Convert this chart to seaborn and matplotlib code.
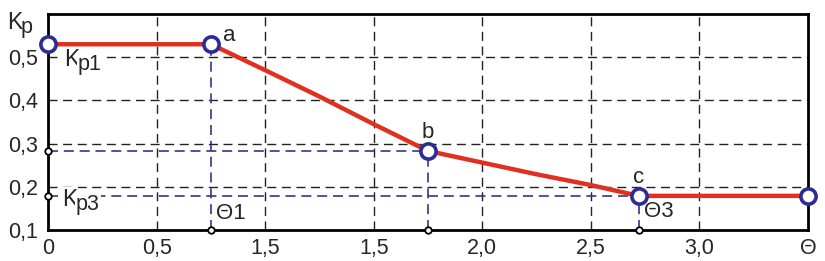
import matplotlib
matplotlib.use("Agg")
import matplotlib.pyplot as plt
import seaborn as sns
import pandas as pd
import numpy as np
from matplotlib.ticker import MultipleLocator

# ---- data ----
theta = [0.0, 0.75, 1.0, 1.25, 1.5, 1.75, 2.0, 2.25, 2.5, 2.72, 3.5]
kp = [0.53, 0.53, 0.470, 0.409, 0.345, 0.283, 0.256, 0.229, 0.204, 0.179, 0.179]
key_theta = [0.0, 0.75, 1.75, 2.72, 3.5]
key_kp = [0.53, 0.53, 0.283, 0.179, 0.179]
xtick_pos = [0.0, 0.5, 1.0, 1.5, 2.0, 2.5, 3.0, 3.5]
xtick_labels = ["0", "0,5", "1,5", "1,5", "2,0", "2,5", "3,0", "Θ"]
ytick_pos = [0.1, 0.2, 0.3, 0.4, 0.5]
ytick_labels = ["0,1", "0,2", "0,3", "0,4", "0,5"]

sns.set_style("white")
plt.rcParams["font.family"] = ["Liberation Sans", "DejaVu Sans"]

fig = plt.figure(figsize=(8.25, 2.61), dpi=100)
ax = fig.add_axes([48 / 825, 31 / 261, 760 / 825, 216 / 261])

RED = "#e03020"
BLUE = "#2c2c96"
DBLUE = "#35358a"
FS = 15.5

ax.set_xlim(0, 3.5)
ax.set_ylim(0.1, 0.6)

# grid
for gx in xtick_pos[1:-1]:
    ax.axvline(gx, color="#222222", lw=1.0, ls=(0, (6.5, 4)), zorder=1)
for gy in ytick_pos[1:]:
    ax.axhline(gy, color="#222222", lw=1.0, ls=(0, (6.5, 4)), zorder=1)

# blue dashed projection lines
ax_, ay = key_theta[1], key_kp[1]
bx, by = key_theta[2], key_kp[2]
cx, cy = key_theta[3], key_kp[3]
dash = (0, (6, 3.5))
ax.plot([0, bx], [by, by], color=DBLUE, lw=1.2, ls=dash, zorder=2)
ax.plot([0, cx], [cy, cy], color=DBLUE, lw=1.2, ls=dash, zorder=2)
ax.plot([ax_, ax_], [0.1, ay], color=DBLUE, lw=1.2, ls=dash, zorder=2)
ax.plot([bx, bx], [0.1, by], color=DBLUE, lw=1.2, ls=dash, zorder=2)
ax.plot([cx, cx], [0.1, cy], color=DBLUE, lw=1.2, ls=dash, zorder=2)

# main curve
df = pd.DataFrame({"theta": theta, "kp": kp})
sns.lineplot(data=df, x="theta", y="kp", color=RED, lw=3.2, ax=ax,
             sort=False, zorder=4, estimator=None)

# key points
kdf = pd.DataFrame({"theta": key_theta, "kp": key_kp})
sns.scatterplot(data=kdf, x="theta", y="kp", s=120, marker="o",
                facecolor="white", edgecolor=BLUE, linewidth=2.6,
                ax=ax, zorder=6, clip_on=False)

# small black projection markers
sx = [0.0, 0.0, ax_, bx, cx]
sy = [by, cy, 0.1, 0.1, 0.1]
ax.scatter(sx, sy, s=22, facecolor="white", edgecolor="black",
           linewidth=1.3, zorder=7, clip_on=False)

# point labels
ax.annotate("a", (ax_, ay), xytext=(9, -1), textcoords="offset points",
            fontsize=FS + 0.5, ha="left", va="bottom")
ax.annotate("b", (bx, by), xytext=(0, 6), textcoords="offset points",
            fontsize=FS + 0.5, ha="center", va="bottom")
ax.annotate("c", (cx, cy), xytext=(0, 6), textcoords="offset points",
            fontsize=FS + 0.5, ha="center", va="bottom")

# K labels (K + lowered subscript), white background to cut the lines
WB = dict(facecolor="white", edgecolor="none", pad=0.6)
def klabel(xpix, ypix, sub, bg):
    kw = dict(bbox=WB) if bg else {}
    fig.text(xpix / 825, 1 - ypix / 261, "K", fontsize=FS + 1, ha="left",
             va="top", zorder=8, **kw)
    fig.text((xpix + 14) / 825, 1 - (ypix + 6) / 261, sub, fontsize=FS,
             ha="left", va="top", zorder=8, **kw)

klabel(7, 11, "p", False)
klabel(64, 48, "p1", True)
klabel(62, 188, "p3", True)

ax.annotate("Θ1", (ax_, 0.1), xytext=(4, 4), textcoords="offset points",
            fontsize=FS + 0.5, ha="left", va="bottom")
ax.annotate("Θ3", (cx, 0.1), xytext=(4, 6), textcoords="offset points",
            fontsize=FS + 0.5, ha="left", va="bottom")

# ticks
ax.set_xticks(xtick_pos)
ax.set_xticklabels(xtick_labels)
ax.set_yticks(ytick_pos)
ax.set_yticklabels(ytick_labels)
ax.xaxis.set_minor_locator(MultipleLocator(0.05))
ax.yaxis.set_minor_locator(MultipleLocator(0.02))
ax.tick_params(axis="both", which="major", direction="in", length=6,
               width=1.3, labelsize=FS, color="black")
ax.tick_params(axis="both", which="minor", direction="in", length=5,
               width=1.3, color="black")
ax.tick_params(axis="x", which="both", top=False, pad=6)
ax.tick_params(axis="y", which="both", right=False, pad=7)
ax.set_xlabel("")
ax.set_ylabel("")
for s in ax.spines.values():
    s.set_color("black")
    s.set_linewidth(2.0)
    s.set_visible(True)
ax.grid(False)

fig.savefig("out.png", dpi=100)
